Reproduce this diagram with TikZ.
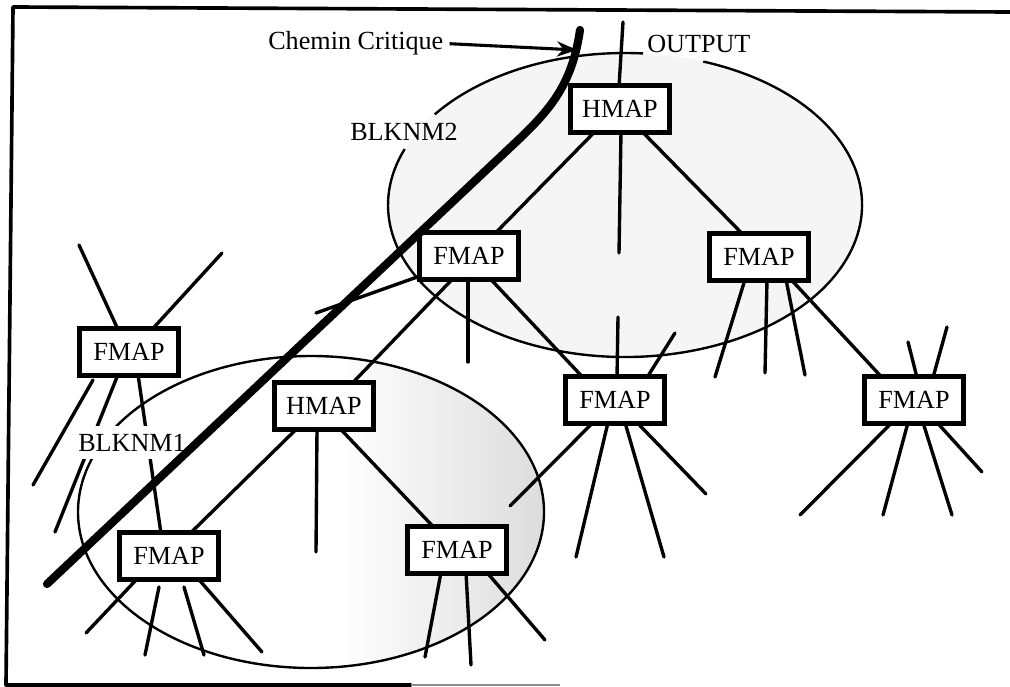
\documentclass[tikz,border=0pt]{standalone}
\usepackage{fontspec}
\setmainfont{Liberation Serif}
\usetikzlibrary{calc,arrows.meta}
\begin{document}
\begin{tikzpicture}[x=0.25mm,y=-0.25mm,
  every node/.style={font=\fontsize{18.6pt}{22pt}\selectfont},
  mapbox/.style={draw, line width=2.2pt, minimum width=24.5mm, minimum height=11.25mm, inner sep=0pt, fill=white},
  link/.style={line width=2.4pt, line cap=round},
  ring/.style={line width=1.7pt},
  critical/.style={line width=5.8pt, line cap=round, line join=round},
  frameline/.style={line width=2.6pt, line cap=round, line join=round},
  lbl/.style={inner sep=0pt, anchor=base west},
  pointer/.style={line width=2.2pt, -{Stealth[length=5mm,width=3.8mm,inset=1.6mm]}}]
\useasboundingbox (0,0) rectangle (1010,686);

% shading
\fill[black!4] (625,205) ellipse [x radius=237, y radius=152];
\begin{scope}
  \clip (311,512) ellipse [x radius=233, y radius=156];
  \shade[left color=white, right color=black!14] (340,340) rectangle (550,680);
\end{scope}

% ellipses
\draw[ring] ($(625,205)+({237*cos(216.6)},{152*sin(216.6)})$) arc[start angle=216.6, end angle=274.4, x radius=237, y radius=152];
\draw[ring] ($(625,205)+({237*cos(289.3)},{152*sin(289.3)})$) arc[start angle=289.3, end angle=561.6, x radius=237, y radius=152];
\draw[ring] (311,512) ellipse [x radius=233, y radius=156];

% nodes
\node[mapbox] (h1) at (620,109) {HMAP};
\node[mapbox] (f1) at (469,256) {FMAP};
\node[mapbox] (f2) at (759,257) {FMAP};
\node[mapbox] (f3) at (615,400) {FMAP};
\node[mapbox] (f4) at (914,400) {FMAP};
\node[mapbox] (f5) at (129,352) {FMAP};
\node[mapbox] (h2) at (324,406) {HMAP};
\node[mapbox] (f6) at (169,556) {FMAP};
\node[mapbox] (f7) at (457,550) {FMAP};

% free ends
\coordinate (h1u) at (623,22);
\coordinate (h1d) at (619,253);
\coordinate (f1d) at (468,362);
\coordinate (f1l) at (316,313);
\coordinate (f2a) at (715,377);
\coordinate (f2b) at (765,373);
\coordinate (f2c) at (805,375);
\coordinate (f4u1) at (908,342);
\coordinate (f4u2) at (947,327);
\coordinate (f4a) at (800,515);
\coordinate (f4b) at (883,515);
\coordinate (f4c) at (952,515);
\coordinate (f4d) at (982,472);
\coordinate (f3u1) at (618,317);
\coordinate (f3u2) at (675,333);
\coordinate (f3a) at (510,506);
\coordinate (f3b) at (576,557);
\coordinate (f3c) at (664,557);
\coordinate (f3d) at (706,494);
\coordinate (f5u1) at (79,245);
\coordinate (f5u2) at (222,253);
\coordinate (f5a) at (33,485);
\coordinate (f5b) at (55,532);
\coordinate (h2d) at (316,552);
\coordinate (f6a) at (86,633);
\coordinate (f6b) at (145,655);
\coordinate (f6c) at (204,655);
\coordinate (f6d) at (262,652);
\coordinate (f7a) at (425,657);
\coordinate (f7b) at (471,665);
\coordinate (f7c) at (545,640);

% connectors
\draw[link] ($(h1.center)+(-1,-22.5)$) -- (h1u);
\draw[link] ($(h1.center)+(-25,22.5)$) -- ($(f1.center)+(26,-22.5)$);
\draw[link] ($(h1.center)+(1,22.5)$) -- (h1d);
\draw[link] ($(h1.center)+(22,22.5)$) -- ($(f2.center)+(-16,-22.5)$);

\draw[link] ($(f1.center)+(-16,22.5)$) -- ($(h2.center)+(28,-22.5)$);
\draw[link] ($(f1.center)+(-1,22.5)$) -- (f1d);
\draw[link] ($(f1.center)+(21,22.5)$) -- ($(f3.center)+(-32,-22.5)$);
\draw[link] ($(f1.center)+(-49,20)$) -- (f1l);

\draw[link] ($(f2.center)+(-14,22.5)$) -- (f2a);
\draw[link] ($(f2.center)+(8,22.5)$) -- (f2b);
\draw[link] ($(f2.center)+(27,22.5)$) -- (f2c);
\draw[link] ($(f2.center)+(32,22.5)$) -- ($(f4.center)+(-32,-22.5)$);

\draw[link] ($(f4.center)+(3,-22.5)$) -- (f4u1);
\draw[link] ($(f4.center)+(19,-22.5)$) -- (f4u2);
\draw[link] ($(f4.center)+(-22,22.5)$) -- (f4a);
\draw[link] ($(f4.center)+(-6,22.5)$) -- (f4b);
\draw[link] ($(f4.center)+(9,22.5)$) -- (f4c);
\draw[link] ($(f4.center)+(23,22.5)$) -- (f4d);

\draw[link] ($(f3.center)+(2,-22.5)$) -- (f3u1);
\draw[link] ($(f3.center)+(32,-22.5)$) -- (f3u2);
\draw[link] ($(f3.center)+(-22,22.5)$) -- (f3a);
\draw[link] ($(f3.center)+(-7,22.5)$) -- (f3b);
\draw[link] ($(f3.center)+(10,22.5)$) -- (f3c);
\draw[link] ($(f3.center)+(22,22.5)$) -- (f3d);

\draw[link] ($(f5.center)+(-11,-22.5)$) -- (f5u1);
\draw[link] ($(f5.center)+(23,-22.5)$) -- (f5u2);
\draw[link] ($(f5.center)+(-36,28)$) -- (f5a);
\draw[link] ($(f5.center)+(-11,22.5)$) -- (f5b);
\draw[link] ($(f5.center)+(9,22.5)$) -- ($(f6.center)+(-8,-22.5)$);

\draw[link] ($(h2.center)+(-27,22.5)$) -- ($(f6.center)+(21,-22.5)$);
\draw[link] ($(h2.center)+(-7,22.5)$) -- (h2d);
\draw[link] ($(h2.center)+(16,22.5)$) -- ($(f7.center)+(-23,-22.5)$);

\draw[link] ($(f6.center)+(-31.5,22.5)$) -- (f6a);
\draw[link] ($(f6.center)+(-10,31)$) -- (f6b);
\draw[link] ($(f6.center)+(15,31)$) -- (f6c);
\draw[link] ($(f6.center)+(29,22.5)$) -- (f6d);

\draw[link] ($(f7.center)+(-16,22.5)$) -- (f7a);
\draw[link] ($(f7.center)+(9,22.5)$) -- (f7b);
\draw[link] ($(f7.center)+(30,22.5)$) -- (f7c);

% redraw box outlines on top of their connectors
\foreach \n in {h1,f1,f2,f3,f4,f5,h2,f6,f7} {\draw[line width=2.2pt] (\n.north west) rectangle (\n.south east);}

% labels
\node[lbl] (cc) at (268,50) {Chemin Critique};
\node[lbl] (outl) at (647,53) {OUTPUT};
\node[lbl] (b2) at (350,140) {BLKNM2};
\node[lbl, fill=white, inner xsep=0.5mm, inner ysep=2mm] (b1) at (76,451) {BLKNM1};

% critical path
\coordinate (cpA) at (47,584);
\coordinate (cpB) at (515,143);
\coordinate (cpT) at (580,30);
\draw[critical] (cpA) -- (cpB) .. controls (550,110) and (572,85) .. (cpT);
\coordinate (ccTip) at (577,50);
\draw[pointer] ($(cc.east)+(6,0)$) -- (ccTip);

% frame
\draw[frameline] (1010,12) -- (13,7) -- (6,685) -- (411,685);
\draw[line width=2pt, black!45] (411,685) -- (560,685);
\end{tikzpicture}
\end{document}
